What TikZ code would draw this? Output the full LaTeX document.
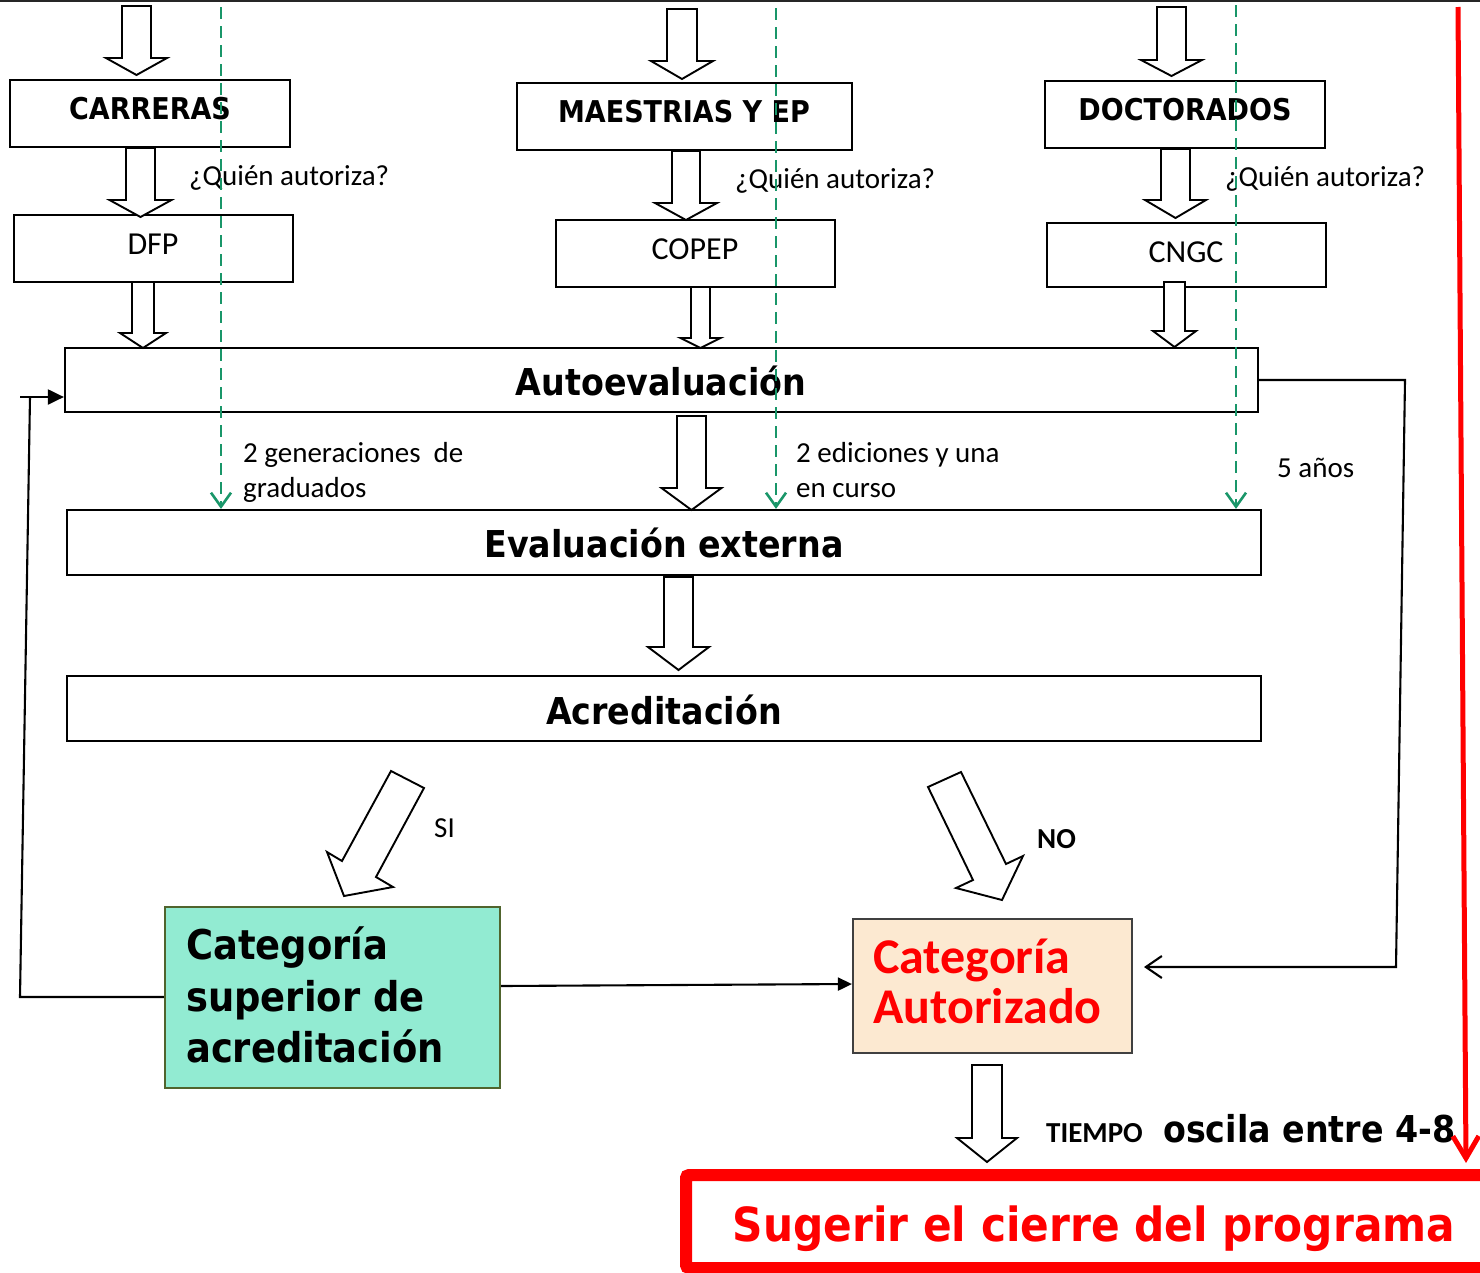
\documentclass[tikz,border=0pt]{standalone}
\usepackage{fontspec}
\setmainfont{Carlito}
\newfontfamily\hfont{DejaVu Sans}[FakeStretch=0.9]
\usetikzlibrary{arrows.meta}
\definecolor{gdash}{RGB}{25,150,105}
\definecolor{aqua}{RGB}{146,235,210}
\definecolor{aquaborder}{RGB}{80,100,45}
\definecolor{peach}{RGB}{252,233,209}
\definecolor{pred}{RGB}{255,0,0}
\newcommand{\barrowv}[6]{% x, half shaft, y top, y head, half head, y tip
  \draw[barrow] ({#1-#2},#3) -- ({#1+#2},#3) -- ({#1+#2},#4) -- ({#1+#5},#4) -- (#1,#6) -- ({#1-#5},#4) -- ({#1-#2},#4) -- cycle;}
\begin{document}
\begin{tikzpicture}[x=1pt,y=-1pt,
  box/.style={draw=black, line width=2.2pt, inner sep=0pt},
  barrow/.style={draw=black, fill=white, line width=1.9pt, line join=miter},
  hd/.style={font=\hfont\bfseries\fontsize{30}{36}\selectfont, anchor=base, inner sep=0pt},
  bighd/.style={font=\hfont\bfseries\fontsize{37}{44}\selectfont, anchor=base, inner sep=0pt},
  org/.style={font=\fontsize{32}{38}\selectfont, anchor=base, inner sep=0pt},
  cal/.style={font=\fontsize{29}{35}\selectfont, anchor=base west, inner sep=0pt},
  calb/.style={font=\bfseries\fontsize{29}{35}\selectfont, anchor=base west, inner sep=0pt},
  supt/.style={font=\hfont\bfseries\fontsize{41}{51}\selectfont, anchor=base west, inner sep=0pt},
  autt/.style={font=\bfseries\fontsize{50}{51}\selectfont, text=pred, anchor=base west, inner sep=0pt},
  gd/.style={draw=gdash, line width=2.6pt, dash pattern=on 12pt off 7pt, -{Straight Barb[length=14pt,width=20pt]}},
  conn/.style={draw=black, line width=2.1pt},
]
\useasboundingbox (0,0) rectangle (1480,1272);
\clip (0,0) rectangle (1480,1272);

% top frame line
\draw[line width=2.2pt, black!85] (0,1) -- (1480,1);

% ---------- boxes ----------
\node[box, minimum width=280pt, minimum height=67pt] (carr) at (150,113.5) {};
\node[box, minimum width=279pt, minimum height=67pt] (dfp) at (153.5,248.5) {};
\node[box, minimum width=335pt, minimum height=67pt] (maes) at (684.5,116.5) {};
\node[box, minimum width=279pt, minimum height=67pt] (copep) at (695.5,253.5) {};
\node[box, minimum width=280pt, minimum height=67pt] (doct) at (1185,114.5) {};
\node[box, minimum width=279pt, minimum height=64pt] (cngc) at (1186.5,255) {};
\node[box, minimum width=1193pt, minimum height=64pt] (auto) at (661.5,380) {};
\node[box, minimum width=1194pt, minimum height=65pt] (ext) at (664,542.5) {};
\node[box, minimum width=1194pt, minimum height=65pt] (acr) at (664,708.5) {};
\node[box, draw=aquaborder, fill=aqua, minimum width=335pt, minimum height=181pt] (sup) at (332.5,997.5) {};
\node[box, draw=black!75, fill=peach, minimum width=279pt, minimum height=134pt] (aut) at (992.5,986) {};
\node[draw=pred, line width=12pt, rounded corners=3pt, inner sep=0pt, minimum width=809pt, minimum height=93pt] (sug) at (1090.5,1221.5) {};

% ---------- block arrows ----------
\barrowv{136.5}{14.5}{6}{58}{30.5}{75}
\barrowv{140.5}{14.5}{148}{200}{31}{217}
\barrowv{143}{11}{282}{333}{23}{348}
\barrowv{682}{15}{9}{61}{31}{79}
\barrowv{686}{14}{151}{203}{31}{220}
\barrowv{700.5}{9.5}{287}{338}{20}{348}
\barrowv{1171.5}{14.5}{7}{60}{30.5}{76}
\barrowv{1175.5}{14.5}{149}{200}{30.5}{218}
\barrowv{1174.5}{10.5}{282}{331}{21.5}{347}
\barrowv{691.5}{14.5}{416}{488}{30}{510}
\barrowv{678.5}{14.5}{577}{647}{30.5}{670}
\barrowv{987}{15}{1065}{1138}{30}{1162}
% diagonal arrows
\draw[barrow] (391,771) -- (424,788) -- (376,877) -- (393,887) -- (344,896) -- (327,852) -- (342,861) -- cycle;
\draw[barrow] (928,787) -- (961,772) -- (1006,864) -- (1023,856) -- (1002,900) -- (956,888) -- (973,880) -- cycle;

% ---------- texts ----------
\node[hd] (tcarr) at (150,119) {CARRERAS};
\node[hd] (tmaes) at (684,122) {MAESTRIAS Y EP};
\node[hd] (tdoct) at (1185,120) {DOCTORADOS};
\node[org] (tdfp) at (153,254) {DFP};
\node[org] (tcopep) at (695,259) {COPEP};
\node[org] (tcngc) at (1186,262) {CNGC};
\node[cal] (q1) at (189,185) {¿Quién autoriza?};
\node[cal] (q2) at (735,188) {¿Quién autoriza?};
\node[cal] (q3) at (1225,186) {¿Quién autoriza?};
\node[bighd] (tauto) at (661,395) {Autoevaluación};
\node[bighd] (text) at (664,557) {Evaluación externa};
\node[bighd] (tacr) at (664,724) {Acreditación};
\node[cal] (g1) at (243,462) {2 generaciones\ \ de};
\node[cal] (g2) at (243,497) {graduados};
\node[cal] (e1) at (796,462) {2 ediciones y una};
\node[cal] (e2) at (796,497) {en curso};
\node[cal] (anos) at (1277,477) {5 años};
\node[cal] (si) at (434,837) {SI};
\node[calb] (no) at (1037,848) {NO};
\node[supt] (s1) at (186,959) {Categoría};
\node[supt] (s2) at (186,1011) {superior de};
\node[supt] (s3) at (186,1062) {acreditación};
\node[autt] (a1) at (873,973) {Categoría};
\node[autt] (a2) at (873,1023) {Autorizado};
\node[calb] (tiempo) at (1046,1142) {TIEMPO};
\node[font=\hfont\bfseries\fontsize{37}{44}\selectfont, anchor=base west, inner sep=0pt] (osc) at (1163,1142) {oscila entre 4-8};
\node[font=\hfont\bfseries\fontsize{47}{56}\selectfont, text=pred, anchor=base, inner sep=0pt] (tsug) at (1094,1241) {Sugerir el cierre del programa};

% ---------- connectors ----------
\coordinate (rl1) at (1405,380);
\coordinate (rl2) at (1396,967);
\coordinate (rlend) at (1144,967);
\draw[conn, -{Straight Barb[length=16pt,width=22pt]}] (auto.east |- rl1) -- (rl1) -- (rl2) -- (rlend);
\coordinate (ll1) at (20,997);
\coordinate (ll2) at (30,397);
\coordinate (ll0) at (20,397);
\draw[conn] (sup.west |- ll1) -- (ll1) -- (ll2);
\draw[conn, -{Triangle[length=16pt,width=15pt]}] (ll0) -- (auto.west |- ll0);
\draw[conn, -{Triangle[length=14pt,width=13pt]}] (sup.east |- 0,986) -- (aut.west |- 0,984);

% dashed green arrows
\coordinate (d1) at (221,7);
\coordinate (d2) at (776,8);
\coordinate (d3) at (1236,5);
\draw[gd] (d1) -- (ext.north -| d1);
\draw[gd] (d2) -- (ext.north -| d2);
\draw[gd] (d3) -- (ext.north -| d3);

% red arrow
\coordinate (rtop) at (1458,7);
\coordinate (rbot) at (1466,1163);
\draw[pred, line width=5pt, -{Straight Barb[length=22pt,width=26pt]}] (rtop) -- (rbot);
\end{tikzpicture}
\end{document}
